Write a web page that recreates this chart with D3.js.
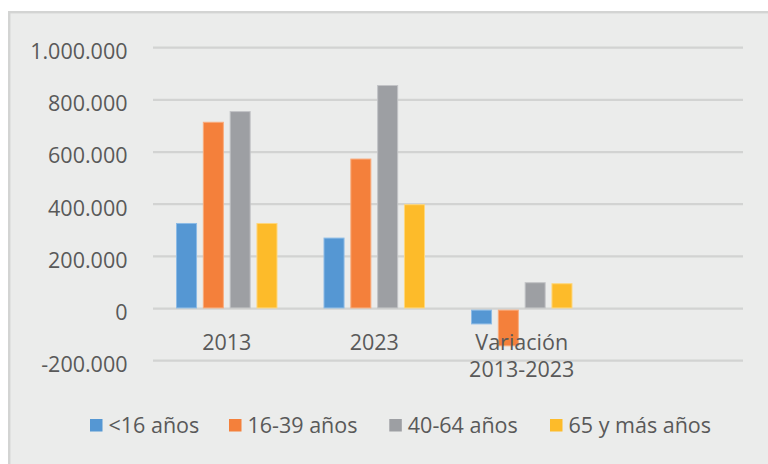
<!DOCTYPE html>
<html>
<head>
<meta charset="utf-8">
<script src="https://cdn.jsdelivr.net/npm/d3@7/dist/d3.min.js"></script>
<style>
  html, body { margin: 0; padding: 0; background: #ffffff; }
  svg { display: block; }
</style>
</head>
<body>
<svg id="chart" width="768" height="464"></svg>
<script>
// Population by age group, 2013 vs 2023 and the change between them.
const categories = ["2013", "2023", "Variación\n2013-2023", ""];
const seriesNames = ["<16 años", "16-39 años", "40-64 años", "65 y más años"];
const seriesColours = ["#5597d3", "#f4803b", "#9d9fa3", "#fdbb2a"];
const seriesEdges = ["#8cbbe6", "#f9ab7c", "#c2c3c6", "#fed77c"];
const values2013 = [328000, 716000, 757000, 328000];
const values2023 = [272000, 575000, 857000, 400000];
const valuesVariation = [-57000, -141000, 101000, 97000];
const yTicks = [-200000, 0, 200000, 400000, 600000, 800000, 1000000];

const rows = [values2013, values2023, valuesVariation, null];

const svg = d3.select("#chart");
const textColour = "#595959";
const font = "'Open Sans', 'Liberation Sans', sans-serif";

// Chart area frame (cropped on the right and bottom in the original).
svg.append("rect")
  .attr("x", 9.2).attr("y", 12.2)
  .attr("width", 780).attr("height", 480)
  .attr("fill", "#ebeceb")
  .attr("stroke", "#d3d4d3")
  .attr("stroke-width", 2.4);

const plot = { left: 153, right: 743, top: 47.7, bottom: 360.7 };

const y = d3.scaleLinear()
  .domain([-200000, 1000000])
  .range([plot.bottom, plot.top]);

const x0 = d3.scaleBand()
  .domain(categories)
  .range([plot.left, plot.right])
  .paddingInner(0.312)
  .paddingOuter(0.156);

const x1 = d3.scaleBand()
  .domain(d3.range(seriesNames.length))
  .range([0, x0.bandwidth()])
  .paddingInner(0.216);

// Gridlines
svg.append("g")
  .selectAll("line")
  .data(yTicks)
  .join("line")
  .attr("x1", plot.left).attr("x2", plot.right)
  .attr("y1", (d) => y(d)).attr("y2", (d) => y(d))
  .attr("stroke", "#d2d3d2")
  .attr("stroke-width", 2.2);

// Bars
const groups = svg.append("g")
  .selectAll("g")
  .data(categories.map((c, i) => ({ cat: c, vals: rows[i] || [] })))
  .join("g")
  .attr("transform", (d) => `translate(${x0(d.cat)},0)`);

groups.selectAll("rect")
  .data((d) => d.vals.map((v, i) => ({ v, i })))
  .join("rect")
  .attr("x", (d) => x1(d.i) + 0.5)
  .attr("width", x1.bandwidth() - 1)
  .attr("y", (d) => Math.min(y(d.v), y(0) - 1.1) + 0.5)
  .attr("height", (d) => Math.max(0, Math.abs(y(d.v) - y(0)) - 1.1))
  .attr("transform", (d) => d.v < 0 ? "translate(0,2.2)" : null)
  .attr("fill", (d) => seriesColours[d.i])
  .attr("stroke", (d) => seriesEdges[d.i])
  .attr("stroke-width", 1);

// Y axis labels: dot as thousands separator, plain hyphen for negatives
const fmt = (v) => d3.format(",")(Math.abs(v)).replace(/,/g, ".");
svg.append("g")
  .selectAll("text")
  .data(yTicks)
  .join("text")
  .attr("x", 127.5)
  .attr("y", (d) => y(d) + 11.3)
  .attr("text-anchor", "end")
  .attr("font-family", font)
  .attr("font-size", 21.5)
  .attr("fill", textColour)
  .text((d) => (d < 0 ? "-" : "") + fmt(d));

// Category labels (drawn over the bars, as in the original)
const catLabels = svg.append("g")
  .selectAll("text")
  .data(categories)
  .join("text")
  .attr("x", (d) => x0(d) + x0.bandwidth() / 2)
  .attr("y", y(0) + 41)
  .attr("text-anchor", "middle")
  .attr("font-family", font)
  .attr("font-size", 21.5)
  .attr("fill", textColour);

catLabels.selectAll("tspan")
  .data((d) => d.split("\n"))
  .join("tspan")
  .attr("x", function () { return d3.select(this.parentNode).attr("x"); })
  .attr("dy", (d, i) => i === 0 ? 0 : 27.4)
  .text((d) => d);

// Legend
const legendX = [90, 229, 389.3, 550];
const legend = svg.append("g")
  .selectAll("g")
  .data(seriesNames)
  .join("g")
  .attr("transform", (d, i) => `translate(${legendX[i]},419)`);

legend.append("rect")
  .attr("width", 12.5).attr("height", 12.5)
  .attr("fill", (d, i) => seriesColours[i]);

legend.append("text")
  .attr("x", 18.5)
  .attr("y", 14.2)
  .attr("font-family", font)
  .attr("font-size", 21.5)
  .attr("fill", textColour)
  .text((d) => d);
</script>
</body>
</html>
